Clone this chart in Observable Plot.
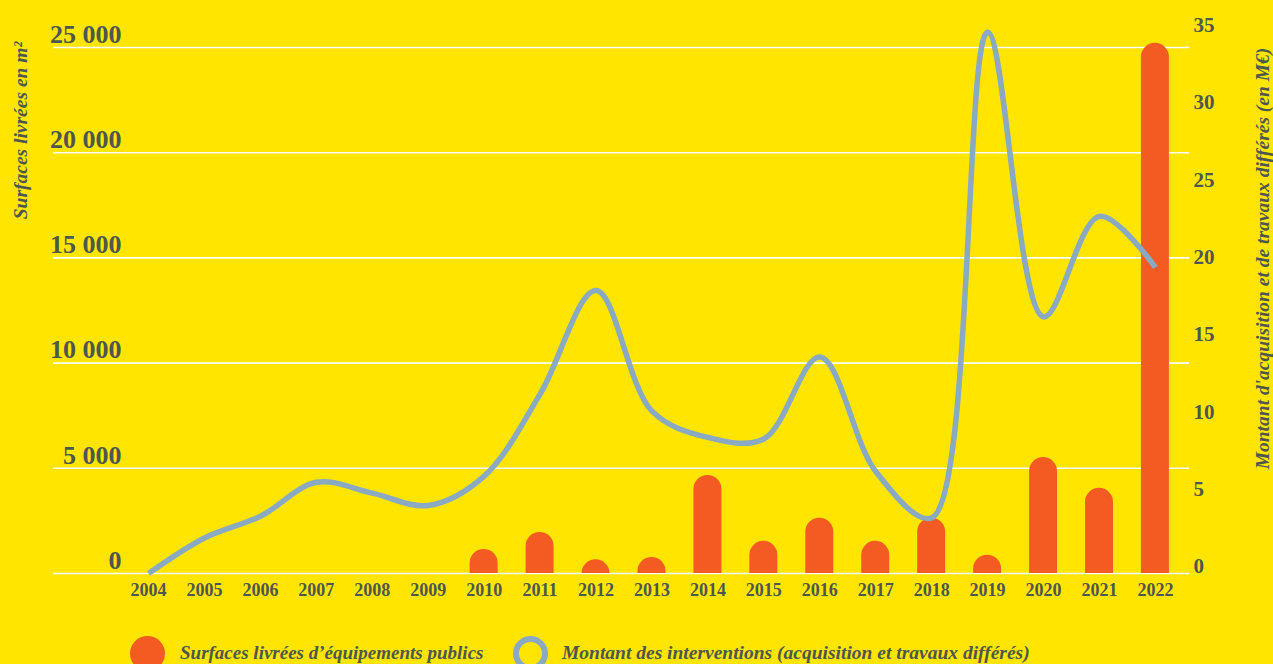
<!DOCTYPE html>
<html>
<head>
<meta charset="utf-8">
<script src="https://cdn.jsdelivr.net/npm/d3@7"></script>
<script src="https://cdn.jsdelivr.net/npm/@observablehq/plot@0.6"></script>
<style>
  html, body { margin: 0; padding: 0; background: #FFE500; overflow: hidden; }
  #chart svg { display: block; background: transparent; }
  .legend { position: relative; height: 44px; font-family: "Liberation Serif", serif; font-style: italic; font-weight: bold; color: #4d5750; font-size: 19px; }
  .legend .sw { position: absolute; top: 16px; width: 35px; height: 35px; border-radius: 50%; box-sizing: border-box; }
  .legend .lb { position: absolute; top: 22px; white-space: nowrap; }
</style>
</head>
<body>
<div id="chart"></div>
<div class="legend" id="legend"></div>
<script>
// ---- data ----
const years = [2004, 2005, 2006, 2007, 2008, 2009, 2010, 2011, 2012, 2013, 2014, 2015, 2016, 2017, 2018, 2019, 2020, 2021, 2022];
// Surfaces livrées d'équipements publics (m²)
const surfaces = [null, null, null, null, null, null, 1140, 1950, 650, 760, 4660, 1530, 2630, 1530, 2630, 870, 5510, 4050, 25200];
// Montant des interventions (M€)
const montants = [0, 2.3, 3.7, 5.9, 5.2, 4.4, 6.3, 11.6, 18.3, 10.5, 8.8, 8.7, 14.0, 6.6, 3.6, 35.0, 16.6, 23.1, 19.8];
const leftTicks = [0, 5000, 10000, 15000, 20000, 25000];
const leftTickLabels = ["0", "5 000", "10 000", "15 000", "20 000", "25 000"];
const rightTicks = [0, 5, 10, 15, 20, 25, 30, 35];
const leftTitle = "Surfaces livrées en m²";
const rightTitle = "Montant d'acquisition et de travaux différés (en M€)";
const legendLabels = ["Surfaces livrées d’équipements publics", "Montant des interventions (acquisition et travaux différés)"];

// ---- styles ----
const yellow = "#FFE500", orange = "#F35B22", blue = "#8AAAC3", ink = "#4d5750";
const font = "Liberation Serif, serif";
const K = 734.9; // M€ -> m² scale factor for the secondary axis

const rows = years.map((year, i) => ({year, surface: surfaces[i], montant: montants[i]}));
const barRows = rows.filter(d => d.surface != null);

const chart = Plot.plot({
  width: 1273,
  height: 620,
  marginLeft: 53,
  marginRight: 84,
  marginTop: 26,
  marginBottom: 47,
  style: {background: "transparent", fontFamily: font, color: ink},
  x: {type: "band", domain: years, paddingInner: 0.5, paddingOuter: 0.904, align: 0.8013, round: false, axis: null},
  y: {domain: [0, 26000], axis: null},
  marks: [
    Plot.ruleY(leftTicks, {stroke: "white", strokeWidth: 1.6}),
    Plot.barY(barRows, {x: "year", y1: -1500, y2: "surface", fill: orange, rx: 14, clip: true}),
    Plot.line(rows, {x: "year", y: d => d.montant * K, curve: "catmull-rom", stroke: blue, strokeWidth: 5.5, strokeLinecap: "butt"}),
    Plot.text(leftTicks, {y: d => d, text: (d, i) => leftTickLabels[i], frameAnchor: "left", dx: 68, dy: -13, textAnchor: "end", fontSize: 26, fontWeight: "bold", fill: ink}),
    Plot.text(rightTicks, {y: d => d * K, text: d => String(d), frameAnchor: "right", dx: 4, dy: -7, textAnchor: "start", fontSize: 21, fontWeight: "bold", fill: ink}),
    Plot.text(years, {x: d => d, text: d => String(d), frameAnchor: "bottom", dy: 22, fontSize: 18, fontWeight: "bold", fill: ink}),
    Plot.text([leftTitle], {frameAnchor: "top-left", dx: -33, dy: 104, rotate: -90, textAnchor: "middle", lineAnchor: "middle", fontSize: 19.5, fontWeight: "bold", fontStyle: "italic", fill: ink}),
    Plot.text([rightTitle], {frameAnchor: "top-right", dx: 73, dy: 232, rotate: -90, textAnchor: "middle", lineAnchor: "middle", fontSize: 19.5, fontWeight: "bold", fontStyle: "italic", fill: ink})
  ]
});
document.getElementById("chart").appendChild(chart);

const legend = document.getElementById("legend");
legend.innerHTML = `
  <div class="sw" style="left:130px;background:${orange}"></div>
  <div class="lb" style="left:180px">${legendLabels[0]}</div>
  <div class="sw" style="left:513px;border:6px solid ${blue}"></div>
  <div class="lb" style="left:562px;font-size:19.5px">${legendLabels[1]}</div>`;
</script>
</body>
</html>
